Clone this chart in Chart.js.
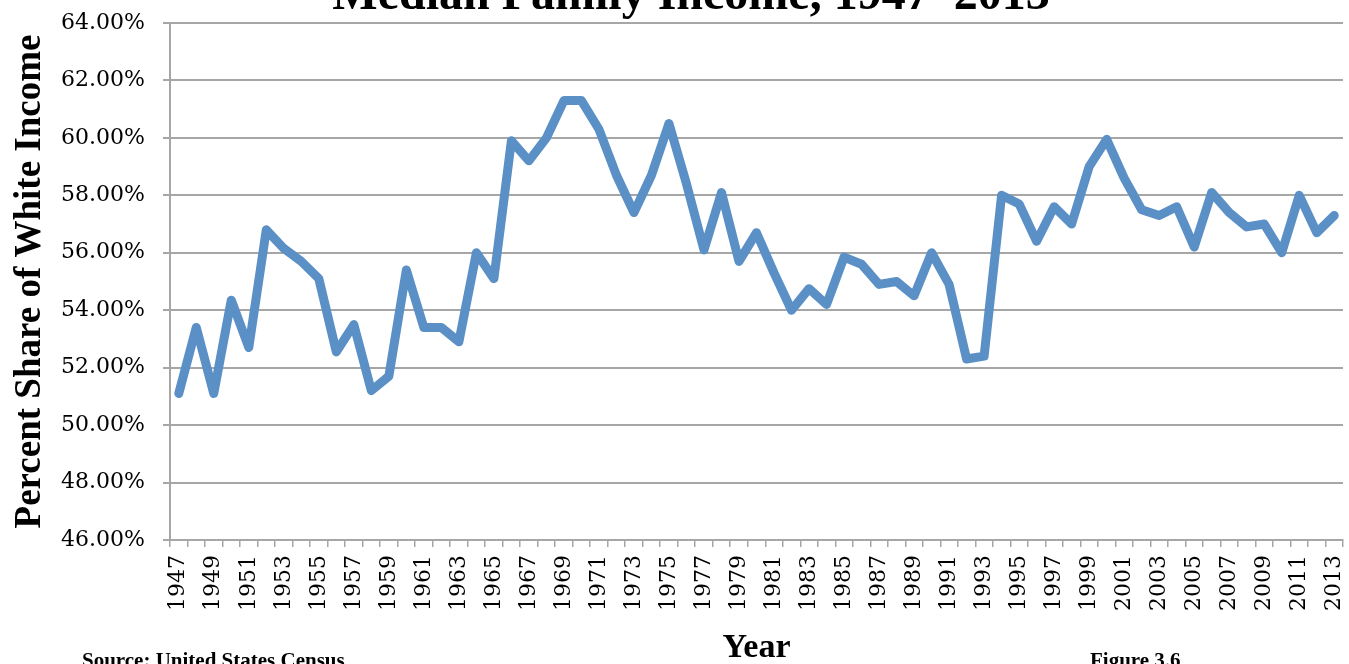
<!DOCTYPE html>
<html>
<head>
<meta charset="utf-8">
<title>Median Family Income, 1947–2013</title>
<script src="https://cdn.jsdelivr.net/npm/chart.js@4.4.1/dist/chart.umd.min.js"></script>
<style>
  html, body { margin: 0; padding: 0; background: #fff; overflow: hidden; }
  #grafica { display: block; }
</style>
</head>
<body>
<canvas id="grafica" width="1349" height="664"></canvas>
<script>
// Años (categorías del eje X)
const years = [
  1947, 1948, 1949, 1950, 1951, 1952, 1953, 1954, 1955, 1956,
  1957, 1958, 1959, 1960, 1961, 1962, 1963, 1964, 1965, 1966,
  1967, 1968, 1969, 1970, 1971, 1972, 1973, 1974, 1975, 1976,
  1977, 1978, 1979, 1980, 1981, 1982, 1983, 1984, 1985, 1986,
  1987, 1988, 1989, 1990, 1991, 1992, 1993, 1994, 1995, 1996,
  1997, 1998, 1999, 2000, 2001, 2002, 2003, 2004, 2005, 2006,
  2007, 2008, 2009, 2010, 2011, 2012, 2013
];

// Porcentaje del ingreso blanco
const shareOfWhite = [
  51.1, 53.4, 51.1, 54.35, 52.7, 56.8, 56.15, 55.7, 55.1, 52.55,
  53.5, 51.2, 51.7, 55.4, 53.4, 53.4, 52.9, 56.0, 55.1, 59.9,
  59.2, 60.0, 61.3, 61.3, 60.3, 58.7, 57.4, 58.7, 60.5, 58.4,
  56.1, 58.1, 55.7, 56.7, 55.3, 54.0, 54.75, 54.2, 55.85, 55.6,
  54.9, 55.0, 54.5, 56.0, 54.9, 52.3, 52.4, 58.0, 57.7, 56.4,
  57.6, 57.0, 59.0, 59.95, 58.6, 57.5, 57.3, 57.6, 56.2, 58.1,
  57.4, 56.9, 57.0, 56.0, 58.0, 56.7, 57.3
];

// Marcas del eje Y
const yTickValues = [46, 48, 50, 52, 54, 56, 58, 60, 62, 64];

const chartTitle = "Median Family Income, 1947\u20132013";
const yAxisTitle = "Percent Share of White Income";
const xAxisTitle = "Year";
const sourceNote = "Source: United States Census";
const figureNote = "Figure 3.6";

const serif = '"Liberation Serif", "Times New Roman", serif';
const serifTicks = '"DejaVu Serif", serif';
const gris = "#a6a6a6";

// Título cortado arriba y notas al pie
const textosExtra = {
  id: "textosExtra",
  afterDraw(chart) {
    const ctx = chart.ctx;
    ctx.save();
    ctx.fillStyle = "#000";
    ctx.textBaseline = "alphabetic";
    ctx.textAlign = "center";
    ctx.font = "bold 48px " + serif;
    ctx.fillText(chartTitle, 691, 9);
    ctx.textAlign = "left";
    ctx.font = "bold 21px " + serif;
    ctx.fillText(sourceNote, 82, 667);
    ctx.fillText(figureNote, 1090, 667);
    ctx.restore();
  }
};

const ctx = document.getElementById("grafica").getContext("2d");
window.grafica = new Chart(ctx, {
  type: "line",
  data: {
    labels: years.map(String),
    datasets: [{
      label: "Percent Share of White Income",
      data: shareOfWhite,
      borderColor: "#5b90c6",
      backgroundColor: "#5b90c6",
      borderWidth: 9,
      borderJoinStyle: "round",
      borderCapStyle: "round",
      pointRadius: 0,
      tension: 0,
      fill: false
    }]
  },
  options: {
    responsive: false,
    animation: false,
    devicePixelRatio: 1,
    layout: { padding: { top: 23, right: 6, bottom: 0, left: 0 } },
    plugins: {
      legend: { display: false },
      title: { display: false },
      tooltip: { enabled: false }
    },
    scales: {
      x: {
        offset: true,
        grid: {
          display: true,
          offset: true,
          drawOnChartArea: false,
          drawTicks: true,
          tickLength: 7,
          color: gris,
          lineWidth: 1.5
        },
        border: { display: true, color: gris, width: 2 },
        ticks: {
          autoSkip: false,
          maxRotation: 90,
          minRotation: 90,
          padding: 8,
          color: "#000",
          font: { family: serifTicks, size: 22 },
          callback: (val, i) => (i % 2 === 0 ? years[i] : "")
        },
        title: {
          display: true,
          text: xAxisTitle,
          color: "#000",
          font: { family: serif, size: 34, weight: "bold" },
          padding: { top: 0, bottom: -5 }
        },
        afterFit: scale => {
          scale.height = 124;
          scale.paddingLeft = 0;
          scale.paddingRight = 0;
        }
      },
      y: {
        min: yTickValues[0],
        max: yTickValues[yTickValues.length - 1],
        afterBuildTicks: scale => {
          scale.ticks = yTickValues.map(v => ({ value: v }));
        },
        grid: {
          color: gris,
          lineWidth: 2,
          drawTicks: true,
          tickLength: 7
        },
        border: { display: true, color: gris, width: 2 },
        ticks: {
          padding: 18,
          color: "#000",
          font: { family: serifTicks, size: 22 },
          callback: v => v.toFixed(2) + "%"
        },
        title: {
          display: true,
          text: yAxisTitle,
          color: "#000",
          font: { family: serif, size: 37, weight: "bold" },
          padding: { top: 8, bottom: 0 }
        },
        afterFit: scale => {
          scale.width = 170;
          scale.paddingTop = 0;
          scale.paddingBottom = 0;
        }
      }
    }
  },
  plugins: [textosExtra]
});
</script>
</body>
</html>
